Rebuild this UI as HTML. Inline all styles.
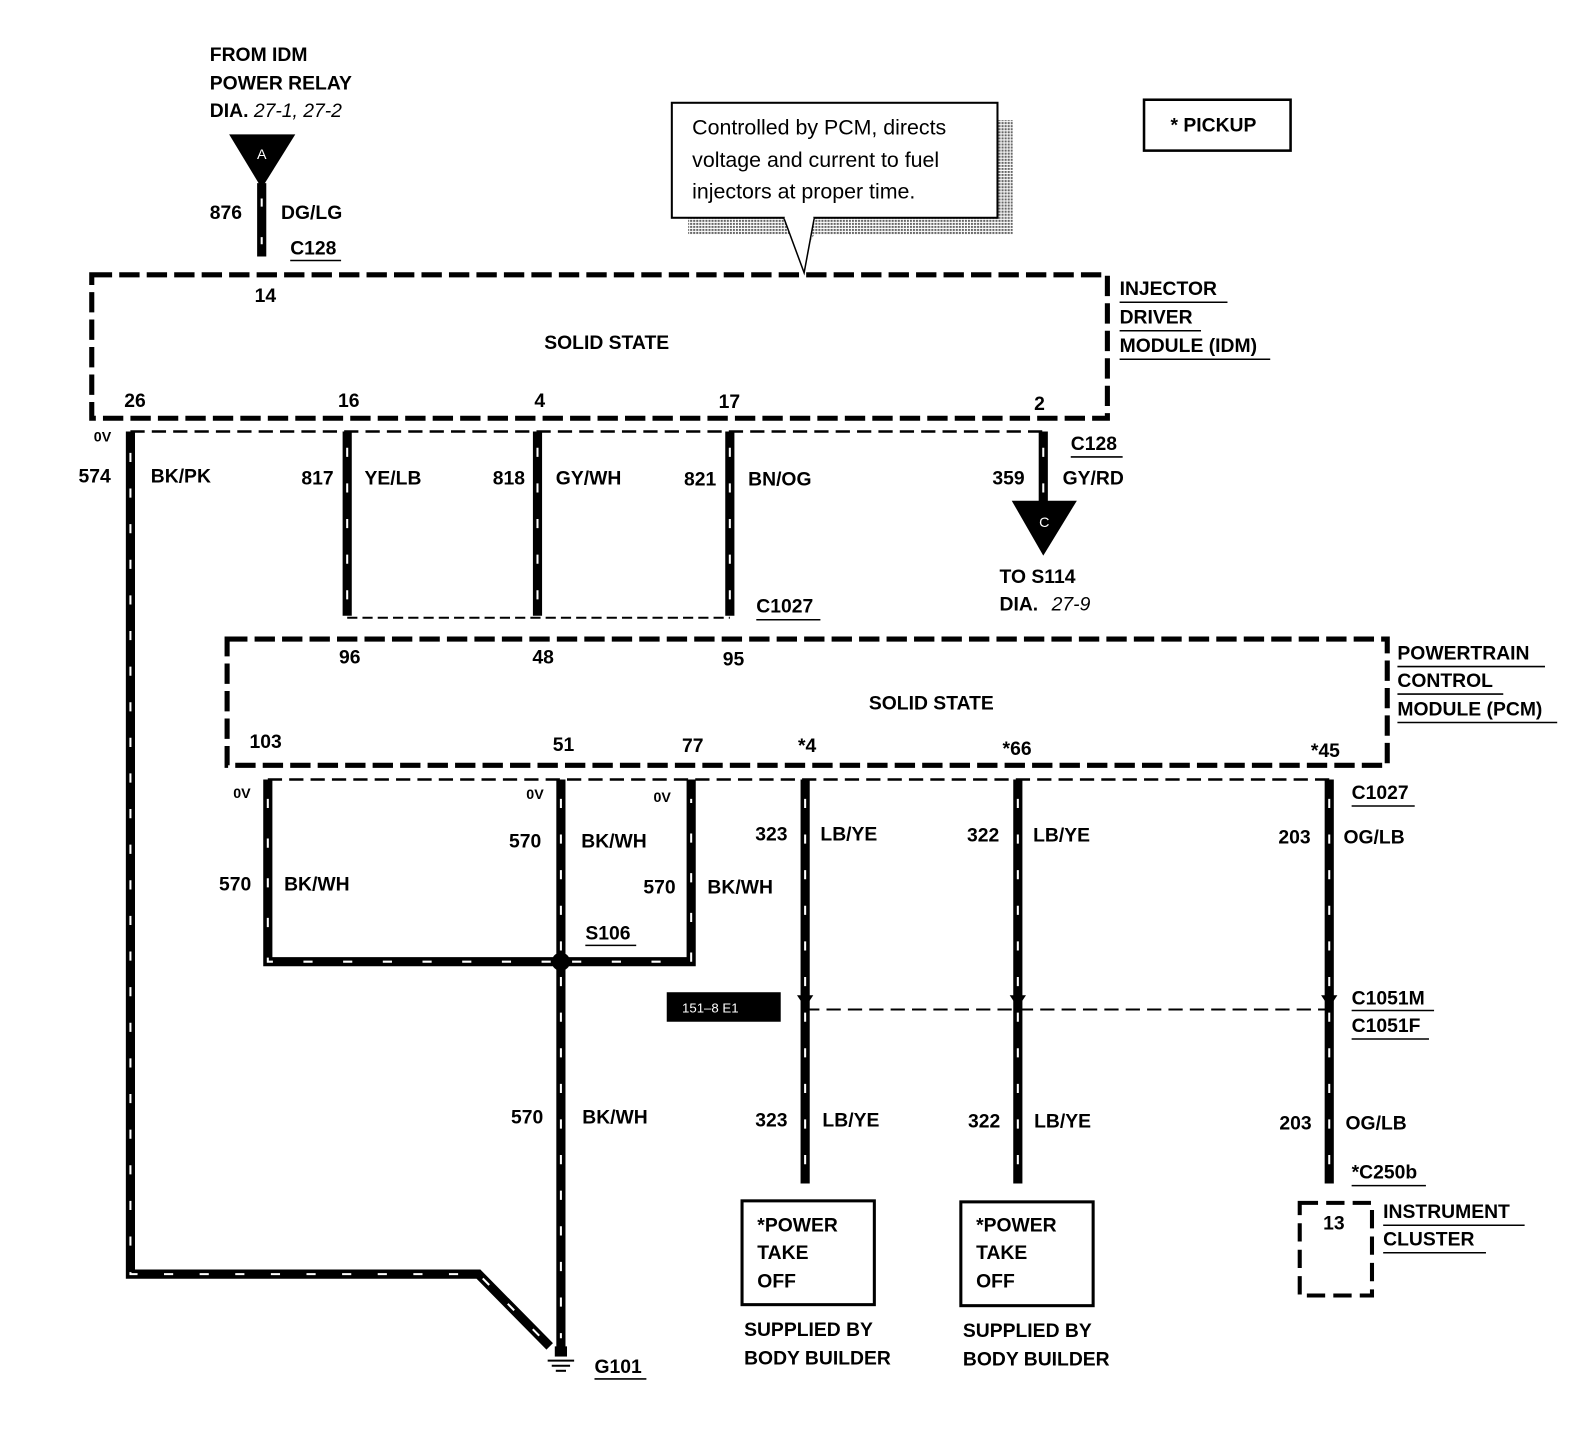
<!DOCTYPE html>
<html><head><meta charset="utf-8"><style>
html,body{margin:0;padding:0;background:#fff;}
svg{display:block;}
text{font-family:"Liberation Sans",sans-serif;font-weight:bold;font-size:19px;fill:#000;}
.s{font-size:14px;}
.n{font-weight:normal;font-size:21px;}
</style></head><body>
<svg width="1594" height="1440" viewBox="0 0 1566 1415" xmlns="http://www.w3.org/2000/svg">
<defs>
<pattern id="hatch" width="3" height="3" patternUnits="userSpaceOnUse"><rect width="3" height="3" fill="#fff"/><rect width="2" height="2" fill="#666"/></pattern>
</defs>
<g fill="none" stroke="#000">
<!-- IDM box -->
<rect x="90" y="270" width="998" height="141" stroke-width="5" stroke-dasharray="20 7"/>
<!-- PCM box -->
<rect x="223" y="628" width="1140" height="124" stroke-width="5" stroke-dasharray="20 7"/>
<!-- connector lines -->
<line x1="128" y1="424" x2="1025" y2="424" stroke-width="2.5" stroke-dasharray="14 7"/>
<line x1="341" y1="607" x2="717" y2="607" stroke-width="2" stroke-dasharray="10 5"/>
<line x1="263" y1="766" x2="1306" y2="766" stroke-width="2.5" stroke-dasharray="14 7"/>
<line x1="791" y1="992" x2="1306" y2="992" stroke-width="2" stroke-dasharray="14 7"/>
<!-- instrument cluster box -->
<rect x="1277" y="1182" width="71" height="91" stroke-width="4" stroke-dasharray="18 8"/>
</g>
<!-- wires -->
<g fill="none" stroke="#000" stroke-width="9" stroke-linejoin="miter">
<line x1="257" y1="180" x2="257" y2="252"/>
<polyline points="128,424 128,1252 470,1252 540,1323"/>
<line x1="341" y1="424" x2="341" y2="605"/>
<line x1="528" y1="424" x2="528" y2="605"/>
<line x1="717" y1="424" x2="717" y2="605"/>
<line x1="1025" y1="424" x2="1025" y2="495"/>
<polyline points="263,766 263,945 679,945 679,766"/>
<line x1="551" y1="766" x2="551" y2="1325"/>
<line x1="791" y1="766" x2="791" y2="1163"/>
<line x1="1000" y1="766" x2="1000" y2="1163"/>
<line x1="1306" y1="766" x2="1306" y2="1163"/>
</g>
<g fill="none" stroke="#fff" stroke-width="2">
<line x1="257" y1="195" x2="257" y2="240" stroke-dasharray="8 30"/>
<polyline points="128,445 128,1252 470,1252 540,1323" stroke-dasharray="9 26"/>
<line x1="341" y1="440" x2="341" y2="600" stroke-dasharray="9 26"/>
<line x1="528" y1="440" x2="528" y2="600" stroke-dasharray="9 26"/>
<line x1="717" y1="440" x2="717" y2="600" stroke-dasharray="9 26"/>
<line x1="1025" y1="440" x2="1025" y2="485" stroke-dasharray="9 26"/>
<polyline points="263,785 263,945 541,945" stroke-dasharray="9 30"/>
<polyline points="562,945 679,945 679,785" stroke-dasharray="9 30"/>
<line x1="551" y1="785" x2="551" y2="935" stroke-dasharray="9 26"/>
<line x1="551" y1="960" x2="551" y2="1315" stroke-dasharray="9 26"/>
<line x1="791" y1="785" x2="791" y2="1160" stroke-dasharray="9 26"/>
<line x1="1000" y1="785" x2="1000" y2="1160" stroke-dasharray="9 26"/>
<line x1="1306" y1="785" x2="1306" y2="1160" stroke-dasharray="9 26"/>
</g>
<!-- splice -->
<circle cx="551" cy="945" r="9" fill="#000"/>
<!-- arrows at C1051 -->
<g fill="#000">
<polygon points="783,978 799,978 791,990"/>
<polygon points="992,978 1008,978 1000,990"/>
<polygon points="1298,978 1314,978 1306,990"/>
<!-- triangles -->
<polygon points="225,132 290,132 257,185"/>
<polygon points="994,492 1058,492 1025,546"/>
<!-- ground -->
<rect x="545" y="1323" width="12" height="10"/>
</g>
<g stroke="#000" stroke-width="2">
<line x1="538" y1="1337" x2="564" y2="1337"/>
<line x1="542" y1="1342" x2="560" y2="1342"/>
<line x1="546" y1="1347" x2="556" y2="1347"/>
</g>
<text x="257" y="156" text-anchor="middle" fill="#fff" style="fill:#fff;font-size:14px;font-weight:normal">A</text>
<text x="1026" y="518" text-anchor="middle" style="fill:#fff;font-size:14px;font-weight:normal">C</text>
<!-- callout -->
<polygon points="676,214 995,214 995,118 980,118 980,230 676,230" fill="url(#hatch)"/>
<polygon points="800,214 995,214 995,230 800,230 790,250" fill="url(#hatch)"/>
<rect x="660" y="101" width="320" height="113" fill="#fff" stroke="#000" stroke-width="2"/>
<polyline points="770,214 790,268 800,214" fill="#fff" stroke="#000" stroke-width="1.5"/>
<line x1="771" y1="214" x2="799" y2="214" stroke="#fff" stroke-width="3"/>
<text class="n" x="680" y="132">Controlled by PCM, directs</text>
<text class="n" x="680" y="164">voltage and current to fuel</text>
<text class="n" x="680" y="195">injectors at proper time.</text>
<!-- pickup -->
<rect x="1124" y="98" width="144" height="50" fill="none" stroke="#000" stroke-width="2.5"/>
<text x="1150" y="129">* PICKUP</text>
<!-- PTO boxes -->
<rect x="729" y="1180" width="130" height="102" fill="none" stroke="#000" stroke-width="3"/>
<rect x="944" y="1181" width="130" height="102" fill="none" stroke="#000" stroke-width="3"/>
<!-- text -->
<text x="206" y="60">FROM IDM</text>
<text x="206" y="88">POWER RELAY</text>
<text x="206" y="115">DIA. <tspan font-style="italic" font-weight="normal">27-1, 27-2</tspan></text>
<text x="206" y="215">876</text><text x="276" y="215">DG/LG</text>
<text x="285" y="250">C128</text><line x1="285" y1="256" x2="335" y2="256" stroke="#000" stroke-width="1.5"/>
<text x="250" y="297">14</text>
<text x="596" y="343" text-anchor="middle">SOLID STATE</text>
<text x="1100" y="290">INJECTOR</text><line x1="1100" y1="297" x2="1206" y2="297" stroke="#000" stroke-width="1.5"/>
<text x="1100" y="318">DRIVER</text><line x1="1100" y1="325" x2="1180" y2="325" stroke="#000" stroke-width="1.5"/>
<text x="1100" y="346">MODULE <tspan font-weight="bold">(IDM)</tspan></text><line x1="1100" y1="353" x2="1248" y2="353" stroke="#000" stroke-width="1.5"/>
<text x="122" y="400">26</text><text x="332" y="400">16</text><text x="525" y="400">4</text><text x="706" y="401">17</text><text x="1016" y="403">2</text>
<text class="s" x="92" y="434">0V</text>
<text x="77" y="474">574</text><text x="148" y="474">BK/PK</text>
<text x="296" y="476">817</text><text x="358" y="476">YE/LB</text>
<text x="484" y="476">818</text><text x="546" y="476">GY/WH</text>
<text x="672" y="477">821</text><text x="735" y="477">BN/OG</text>
<text x="1052" y="442">C128</text><line x1="1052" y1="449" x2="1103" y2="449" stroke="#000" stroke-width="1.5"/>
<text x="975" y="476">359</text><text x="1044" y="476">GY/RD</text>
<text x="982" y="573">TO S114</text>
<text x="982" y="600">DIA. <tspan font-style="italic" font-weight="normal" dx="8">27-9</tspan></text>
<text x="743" y="602">C1027</text><line x1="743" y1="609" x2="806" y2="609" stroke="#000" stroke-width="1.5"/>
<text x="333" y="652">96</text><text x="523" y="652">48</text><text x="710" y="654">95</text>
<text x="915" y="697" text-anchor="middle">SOLID STATE</text>
<text x="1373" y="648">POWERTRAIN</text><line x1="1373" y1="655" x2="1518" y2="655" stroke="#000" stroke-width="1.5"/>
<text x="1373" y="675">CONTROL</text><line x1="1373" y1="682" x2="1477" y2="682" stroke="#000" stroke-width="1.5"/>
<text x="1373" y="703">MODULE <tspan>(PCM)</tspan></text><line x1="1373" y1="710" x2="1530" y2="710" stroke="#000" stroke-width="1.5"/>
<text x="245" y="735">103</text><text x="543" y="738">51</text><text x="670" y="739">77</text>
<text x="784" y="739">*4</text><text x="985" y="742">*66</text><text x="1288" y="744">*45</text>
<text x="1328" y="785">C1027</text><line x1="1328" y1="792" x2="1390" y2="792" stroke="#000" stroke-width="1.5"/>
<text class="s" x="229" y="784">0V</text><text class="s" x="517" y="785">0V</text><text class="s" x="642" y="788">0V</text>
<text x="215" y="875">570</text><text x="279" y="875">BK/WH</text>
<text x="500" y="833">570</text><text x="571" y="833">BK/WH</text>
<text x="632" y="878">570</text><text x="695" y="878">BK/WH</text>
<text x="575" y="923">S106</text><line x1="575" y1="929" x2="625" y2="929" stroke="#000" stroke-width="1.5"/>
<text x="742" y="826">323</text><text x="806" y="826">LB/YE</text>
<text x="950" y="827">322</text><text x="1015" y="827">LB/YE</text>
<text x="1256" y="829">203</text><text x="1320" y="829">OG/LB</text>
<rect x="655" y="975" width="112" height="29" fill="#000"/>
<text x="670" y="995" style="fill:#fff;font-size:13px;font-weight:normal">151–8 E1</text>
<text x="1328" y="987">C1051M</text><line x1="1328" y1="993" x2="1409" y2="993" stroke="#000" stroke-width="1.5"/>
<text x="1328" y="1014">C1051F</text><line x1="1328" y1="1021" x2="1404" y2="1021" stroke="#000" stroke-width="1.5"/>
<text x="502" y="1104">570</text><text x="572" y="1104">BK/WH</text>
<text x="742" y="1107">323</text><text x="808" y="1107">LB/YE</text>
<text x="951" y="1108">322</text><text x="1016" y="1108">LB/YE</text>
<text x="1257" y="1110">203</text><text x="1322" y="1110">OG/LB</text>
<text x="1328" y="1158">*C250b</text><line x1="1328" y1="1165" x2="1401" y2="1165" stroke="#000" stroke-width="1.5"/>
<text x="744" y="1210">*POWER</text><text x="744" y="1237">TAKE</text><text x="744" y="1265">OFF</text>
<text x="959" y="1210">*POWER</text><text x="959" y="1237">TAKE</text><text x="959" y="1265">OFF</text>
<text x="731" y="1313">SUPPLIED BY</text><text x="731" y="1341">BODY BUILDER</text>
<text x="946" y="1314">SUPPLIED BY</text><text x="946" y="1342">BODY BUILDER</text>
<text x="1300" y="1208">13</text>
<text x="1359" y="1197">INSTRUMENT</text><line x1="1359" y1="1204" x2="1498" y2="1204" stroke="#000" stroke-width="1.5"/>
<text x="1359" y="1224">CLUSTER</text><line x1="1359" y1="1231" x2="1460" y2="1231" stroke="#000" stroke-width="1.5"/>
<text x="584" y="1349">G101</text><line x1="584" y1="1355" x2="635" y2="1355" stroke="#000" stroke-width="1.5"/>
</svg>
</body></html>
